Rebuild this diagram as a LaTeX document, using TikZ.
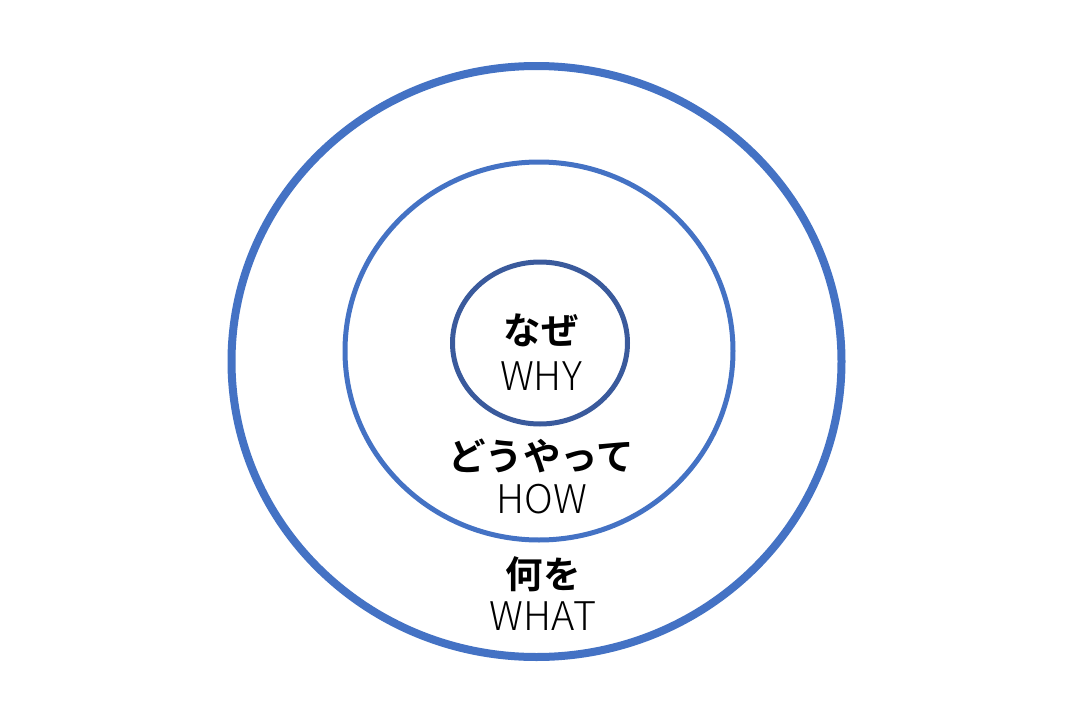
\documentclass[tikz,border=0pt]{standalone}
\usepackage{fontspec}
\newfontfamily\jp{Noto Sans CJK JP Light}
\newfontfamily\jpb{Noto Sans CJK JP Bold}
\definecolor{ringblue}{HTML}{4472C4}
\definecolor{innerblue}{HTML}{3A5A9C}
\begin{document}
\begin{tikzpicture}[x=1pt,y=-1pt,
  ring/.style={draw=ringblue},
  jtitle/.style={inner sep=0pt,font=\jpb\fontsize{37.5}{40}\selectfont},
  etitle/.style={inner sep=0pt,font=\jp\fontsize{39.5}{42}\selectfont}]
\useasboundingbox (0,0) rectangle (1080,720);
\fill[white] (0,0) rectangle (1080,720);
\draw[ring,line width=8pt] (536.5,361.5) ellipse [x radius=305, y radius=295.5];
\draw[ring,line width=5pt] (539,351) ellipse [x radius=194, y radius=189];
\draw[draw=innerblue,line width=5pt] (540,343) ellipse [x radius=87.5, y radius=81];
\node[jtitle] (why-j) at (541,330) {なぜ};
\node[etitle] (why-e) at (541,376) {WHY};
\node[jtitle] (how-j) at (541,456) {どうやって};
\node[etitle] (how-e) at (542,499) {HOW};
\node[jtitle] (what-j) at (543,574) {何を};
\node[etitle] (what-e) at (543,616) {WHAT};
\end{tikzpicture}
\end{document}
